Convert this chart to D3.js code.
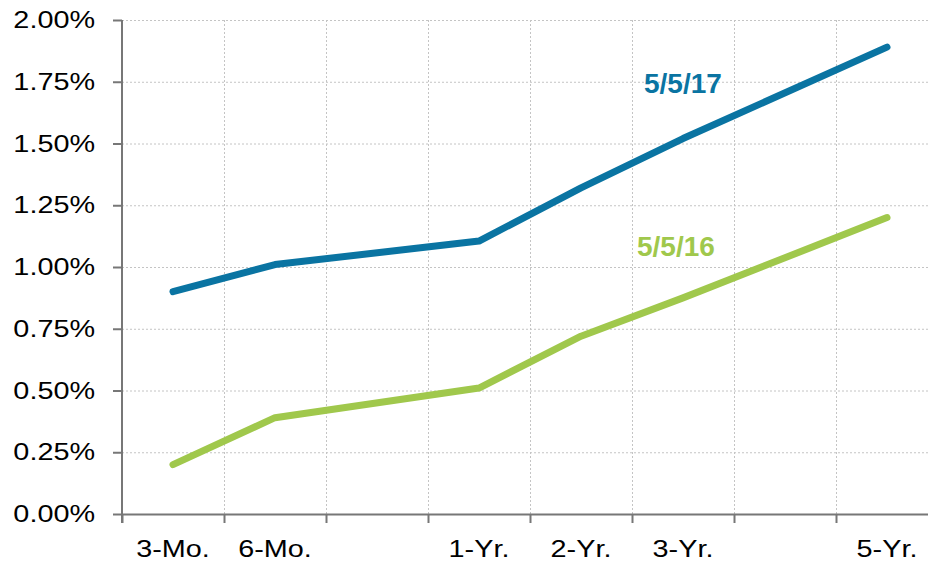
<!DOCTYPE html>
<html>
<head>
<meta charset="utf-8">
<script src="https://cdn.jsdelivr.net/npm/d3@7"></script>
<style>
  body { margin: 0; background: #fff; }
  svg text { font-family: "Liberation Sans", Arial, sans-serif; }
  .grid line { stroke: #c4c4c4; stroke-width: 1; stroke-dasharray: 2,2; }
  .grid .domain { display: none; }
  .axis .domain, .axis line { stroke: #777; stroke-width: 2; }
</style>
</head>
<body>
<div id="chart"></div>
<script>
// tenor slots along the x axis (blank slots carry no data)
var slots = ["3-Mo.", "6-Mo.", "s3", "1-Yr.", "2-Yr.", "3-Yr.", "s7", "5-Yr."];
var tenors = ["3-Mo.", "6-Mo.", "1-Yr.", "2-Yr.", "3-Yr.", "5-Yr."];
var yield2017 = [0.90, 1.01, 1.105, 1.32, 1.52, 1.89];
var yield2016 = [0.20, 0.39, 0.51, 0.72, 0.875, 1.20];
var yTicks = [0, 0.25, 0.5, 0.75, 1.0, 1.25, 1.5, 1.75, 2.0];

var width = 928, height = 562;
var margin = {top: 20, right: -10, bottom: 48, left: 122};
var w = width - margin.left - margin.right,
    h = height - margin.top - margin.bottom;
var stretch = "scale(1.2,1)"; // the source image's text is a bit wide

var svg = d3.select("#chart").append("svg")
    .attr("width", width).attr("height", height)
  .append("g")
    .attr("transform", "translate(" + margin.left + "," + margin.top + ")");

var x = d3.scaleBand().domain(slots).range([0, w]);
var y = d3.scaleLinear().domain([0, 2]).range([h, 0]);

// gridlines
svg.append("g").attr("class", "grid")
    .call(d3.axisLeft(y).tickValues(yTicks).tickSize(-w).tickFormat(""));
var xb = d3.scaleLinear().domain([0, slots.length]).range([0, w]);
svg.append("g").attr("class", "grid")
    .call(d3.axisTop(xb).ticks(slots.length).tickSize(-h).tickFormat(""));

// x axis: ticks on band boundaries, labels centred in bands
var xAxis = svg.append("g").attr("class", "axis")
    .attr("transform", "translate(0," + h + ")")
    .call(d3.axisBottom(xb).ticks(slots.length).tickSize(9).tickSizeOuter(0).tickFormat(""));
xAxis.selectAll(".lbl")
    .data(tenors)
  .enter().append("text")
    .attr("transform", function(d) {
      return "translate(" + (x(d) + x.bandwidth() / 2) + ",43)" + stretch;
    })
    .attr("fill", "#000")
    .style("font-size", "24px")
    .style("text-anchor", "middle")
    .text(function(d) { return d; });

// y axis
var yAxis = svg.append("g").attr("class", "axis")
    .call(d3.axisLeft(y).tickValues(yTicks).tickSize(9).tickSizeOuter(0)
      .tickFormat(function(d) { return d3.format(".2f")(d) + "%"; }));
yAxis.selectAll("text")
    .attr("x", null)
    .attr("transform", "translate(-27,0)" + stretch)
    .attr("fill", "#000")
    .style("font-size", "24px");
yAxis.select(".domain").attr("d", "M0," + (h + 9) + "V0");

var line = d3.line()
    .x(function(d, i) { return x(tenors[i]) + x.bandwidth() / 2; })
    .y(function(d) { return y(d); });

var series = [
  {name: "5/5/16", values: yield2016, color: "#a0c84c", lx: 637, ly: 256},
  {name: "5/5/17", values: yield2017, color: "#0a74a2", lx: 644, ly: 93}
];

series.forEach(function(s) {
  svg.append("path")
      .datum(s.values)
      .attr("d", line)
      .attr("fill", "none")
      .attr("stroke", s.color)
      .attr("stroke-width", 7)
      .attr("stroke-linecap", "round")
      .attr("stroke-linejoin", "round");
  svg.append("text")
      .attr("x", s.lx - margin.left)
      .attr("y", s.ly - margin.top)
      .attr("fill", s.color)
      .style("font-size", "28px")
      .style("font-weight", "bold")
      .text(s.name);
});
</script>
</body>
</html>
